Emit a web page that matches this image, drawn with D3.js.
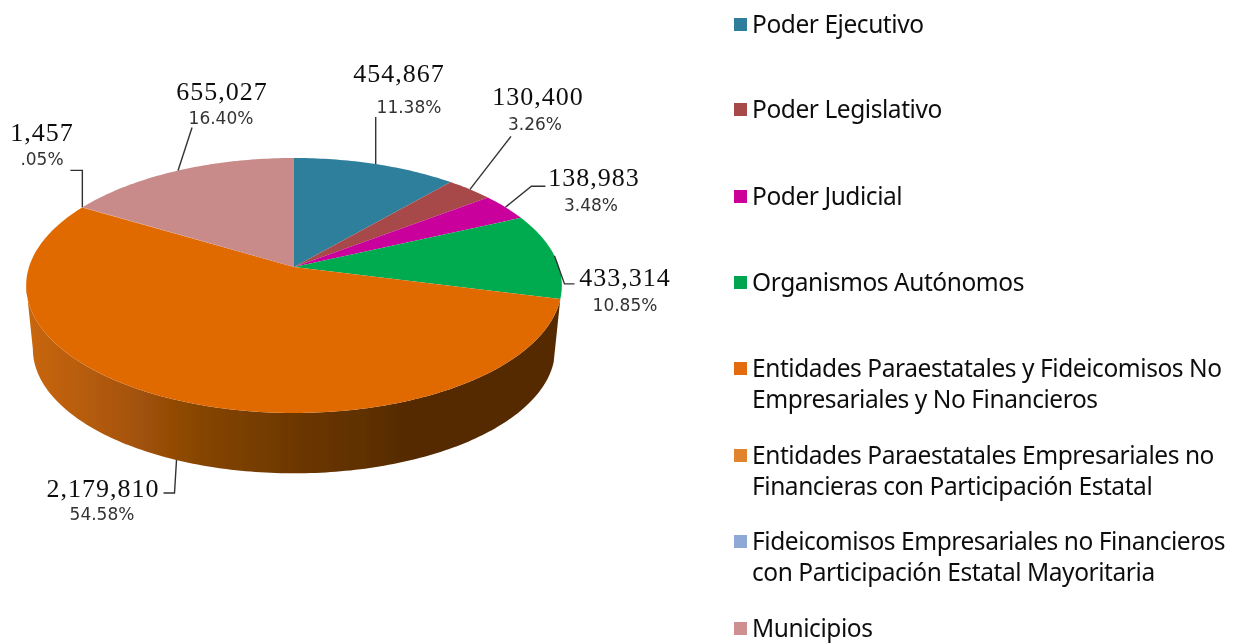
<!DOCTYPE html>
<html lang="es">
<head>
<meta charset="UTF-8"/>
<title>Pie</title>
<script src="https://d3js.org/d3.v7.min.js"></script>
<style>
    html, body { margin: 0; padding: 0; background: #fff; }
    svg { display: block; }
</style>
</head>
<body>
<script>
// chart data
var categories = [
    "Poder Ejecutivo",
    "Poder Legislativo",
    "Poder Judicial",
    "Organismos Autónomos",
    "Entidades Paraestatales y Fideicomisos No Empresariales y No Financieros",
    "Entidades Paraestatales Empresariales no Financieras con Participación Estatal",
    "Fideicomisos Empresariales no Financieros con Participación Estatal Mayoritaria",
    "Municipios"
];
var values = [454867, 130400, 138983, 433314, 2179810, 1457, 0, 655027];
var percentLabels = ["11.38%", "3.26%", "3.48%", "10.85%", "54.58%", ".05%", "", "16.40%"];
var sliceColors = ["#2e7f9c", "#a84a4a", "#c9009b", "#00ab4f", "#e06b06", "#e0842f", "#8fa9d6", "#c98a8a"];
var legendColors = ["#2e7d9a", "#a84848", "#cc0099", "#00a650", "#e36a0a", "#e0842f", "#8fa9d6", "#cf8f90"];
var legendLines = [
    ["Poder Ejecutivo"],
    ["Poder Legislativo"],
    ["Poder Judicial"],
    ["Organismos Autónomos"],
    ["Entidades Paraestatales y Fideicomisos No", "Empresariales y No Financieros"],
    ["Entidades Paraestatales Empresariales no", "Financieras con Participación Estatal"],
    ["Fideicomisos Empresariales no Financieros", "con Participación Estatal Mayoritaria"],
    ["Municipios"]
];

// label layout: elbow offsets from the slice edge, then value / percent text spots
var leaders = [
    [[0, -47]],
    [[41, -53]],
    [[26, -21], [40, -21]],
    [[10, 28], [20, 28]],
    [[-2, 33], [-13, 33]],
    [[0, -37], [-12, -37]],
    [],
    [[14, -43]]
];
var valueSpots = [[399, 82], [538, 105], [594, 186], [625, 286], [103, 497], [42, 141], null, [222, 100]];
var percentSpots = [[409, 113], [535, 130], [591, 211], [625, 311], [102, 520], [42, 165], null, [221, 124]];
var legendY = [25, 110, 197, 283, 369, 456, 542, 629];

var w = 1248;
var h = 643;

var svg = d3.select("body").append("svg")
    .attr("width", w)
    .attr("height", h);

var defs = svg.append("defs");
var grad = defs.append("linearGradient")
    .attr("id", "wall")
    .attr("gradientUnits", "userSpaceOnUse")
    .attr("x1", 30).attr("x2", 560).attr("y1", 0).attr("y2", 0);
grad.selectAll("stop")
    .data([[0, "#c8660a"], [0.18, "#a85508"], [0.32, "#864505"], [0.52, "#6a3603"], [0.72, "#552b00"], [1, "#552b00"]])
    .enter().append("stop")
    .attr("offset", d => d[0])
    .attr("stop-color", d => d[1]);

// the source picture is a soft jpeg
defs.append("filter").attr("id", "soft")
    .attr("x", 0).attr("y", 0).attr("width", 1).attr("height", 1)
    .attr("filterUnits", "objectBoundingBox")
    .append("feGaussianBlur").attr("stdDeviation", 0.4);

var root = svg.append("g").attr("filter", "url(#soft)");
root.append("rect").attr("width", w).attr("height", h).attr("fill", "#fff");

// the disc is tilted, so the centre sits above the middle of the ellipse
var cx = 294, cy = 267;
var tilt = 0.145, rx = 265, ry = 124.8;
var depth = 64, shrink = 0.975;

function project(a, s, dy) {
    var u = Math.sin(a), v = Math.cos(a), k = 1 + tilt * v;
    return [cx + s * rx * u / k, cy + dy - s * ry * v / k];
}

function arcPoints(a0, a1, s, dy) {
    var n = Math.max(2, Math.ceil(Math.abs(a1 - a0) * 60));
    return d3.range(n + 1).map(i => project(a0 + (a1 - a0) * i / n, s, dy));
}

var line = d3.line();
var pie = d3.pie().sort(null).value(d => d)(values);

// side wall of the big slice, from its first edge round to the leftmost point of the rim
var big = pie[4];
var wallEnd = Math.PI * 1.454;
var wallPts = arcPoints(big.startAngle, wallEnd, 1, 0)
    .concat(arcPoints(wallEnd, big.startAngle, shrink, depth));
root.append("path")
    .attr("d", line(wallPts) + "Z")
    .attr("fill", "url(#wall)");

root.selectAll("path.slice")
    .data(pie)
    .enter().append("path")
    .attr("class", "slice")
    .attr("d", d => line([[cx, cy]].concat(arcPoints(d.startAngle, d.endAngle, 1, 0))) + "Z")
    .attr("fill", (d, i) => sliceColors[i]);

// leader lines start on the slice rim at its middle angle
pie.forEach(function (d, i) {
    if (!valueSpots[i]) return;
    var mid = (d.startAngle + d.endAngle) / 2;
    var start = project(mid, 1, i === 4 ? 60 : 0);
    var pts = [start].concat(leaders[i].map(o => [start[0] + o[0], start[1] + o[1]]));
    root.append("path")
        .attr("d", line(pts))
        .attr("fill", "none")
        .attr("stroke", "#333")
        .attr("stroke-width", 1.4);

    root.append("text")
        .attr("x", valueSpots[i][0])
        .attr("y", valueSpots[i][1])
        .attr("text-anchor", "middle")
        .attr("font-family", "Liberation Serif")
        .attr("font-size", 26)
        .attr("letter-spacing", 1)
        .attr("fill", "#111")
        .text(d3.format(",")(values[i]));

    root.append("text")
        .attr("x", percentSpots[i][0])
        .attr("y", percentSpots[i][1])
        .attr("text-anchor", "middle")
        .attr("font-family", "DejaVu Sans")
        .attr("font-size", 17)
        .attr("fill", "#333")
        .text(percentLabels[i]);
});

// legend
var legend = root.selectAll("g.legend")
    .data(categories)
    .enter().append("g")
    .attr("class", "legend")
    .attr("transform", (d, i) => "translate(734," + legendY[i] + ")");

legend.append("rect")
    .attr("x", 0).attr("y", -7)
    .attr("width", 13).attr("height", 13)
    .attr("fill", (d, i) => legendColors[i]);

legend.each(function (d, i) {
    d3.select(this).selectAll("text")
        .data(legendLines[i])
        .enter().append("text")
        .attr("x", 18)
        .attr("y", (t, j) => 8 + j * 31)
        .attr("font-family", "Noto Sans")
        .attr("font-size", 24.5)
        .attr("letter-spacing", -0.44)
        .attr("fill", "#111")
        .text(t => t);
});
</script>
</body>
</html>
